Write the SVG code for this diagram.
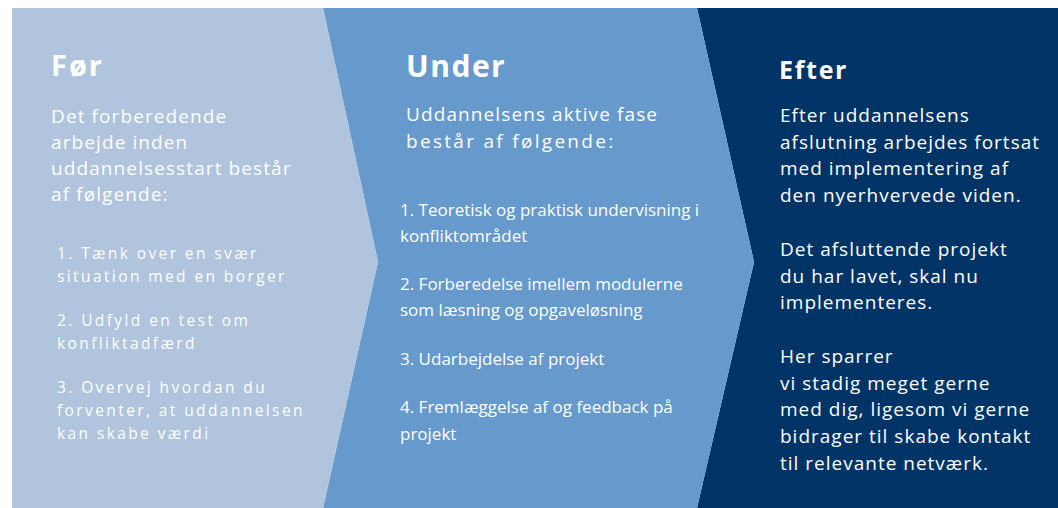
<svg xmlns="http://www.w3.org/2000/svg" width="1058" height="508" viewBox="0 0 1058 508">
<style>
text{fill:#ffffff;font-family:"Open Sans","Liberation Sans",sans-serif}
.title{font-weight:700}
.lh{font-size:19px;letter-spacing:1.1px}
.li{font-size:15.5px;letter-spacing:2.4px}
.mi{font-size:17px}
.rb{font-size:19px;letter-spacing:1px}
</style>
<rect width="1058" height="508" fill="#ffffff"/>
<g id="efter">
<polygon points="697,8 1058,8 1058,508 697,508 754,262" fill="#003366"/>
<text class="title" x="779" y="79" font-size="25" letter-spacing="1.7">Efter</text>
<text class="rb" x="780" y="122">Efter uddannelsens</text>
<text class="rb" x="780" y="148.5">afslutning arbejdes fortsat</text>
<text class="rb" x="780" y="175">med implementering af</text>
<text class="rb" x="780" y="201.5">den nyerhvervede viden.</text>
<text class="rb" x="780" y="256">Det afsluttende projekt</text>
<text class="rb" x="780" y="282.5">du har lavet, skal nu</text>
<text class="rb" x="780" y="309">implementeres.</text>
<text class="rb" x="780" y="363">Her sparrer</text>
<text class="rb" x="780" y="389.5">vi stadig meget gerne</text>
<text class="rb" x="780" y="416">med dig, ligesom vi gerne</text>
<text class="rb" x="780" y="442.5">bidrager til skabe kontakt</text>
<text class="rb" x="780" y="469.5">til relevante netværk.</text>
</g>
<g id="under">
<polygon points="323,8 697,8 754,262 697,508 323,508 378,262" fill="#6699cc"/>
<text class="title" x="406" y="76.5" font-size="30" letter-spacing="1.5">Under</text>
<text x="406" y="121" font-size="19" letter-spacing="1.1">Uddannelsens aktive fase</text>
<text x="406" y="148" font-size="19" letter-spacing="2.3">består af følgende:</text>
<rect x="660" y="193" width="5" height="1.2" fill="#e07a4a"/>
<text class="mi" x="400" y="216">1. Teoretisk og praktisk undervisning i</text>
<text class="mi" x="400" y="242">konfliktområdet</text>
<text class="mi" x="400" y="290">2. Forberedelse imellem modulerne</text>
<text class="mi" x="400" y="316">som læsning og opgaveløsning</text>
<text class="mi" x="400" y="365">3. Udarbejdelse af projekt</text>
<text class="mi" x="400" y="413">4. Fremlæggelse af og feedback på</text>
<text class="mi" x="400" y="440">projekt</text>
</g>
<g id="foer">
<polygon points="12,8 323,8 378,262 323,508 12,508" fill="#b0c4de"/>
<text class="title" x="51" y="76" font-size="29" letter-spacing="2">Før</text>
<text class="lh" x="51" y="122.5">Det forberedende</text>
<text class="lh" x="51" y="149">arbejde inden</text>
<text class="lh" x="51" y="175">uddannelsesstart består</text>
<text class="lh" x="51" y="201">af følgende:</text>
<text class="li" x="57" y="259">1. Tænk over en svær</text>
<text class="li" x="57" y="282">situation med en borger</text>
<text class="li" x="57" y="326">2. Udfyld en test om</text>
<text class="li" x="57" y="349">konfliktadfærd</text>
<text class="li" x="57" y="393">3. Overvej hvordan du</text>
<text class="li" x="57" y="416">forventer, at uddannelsen</text>
<text class="li" x="57" y="439">kan skabe værdi</text>
</g>
<g id="connectors"></g>
</svg>
